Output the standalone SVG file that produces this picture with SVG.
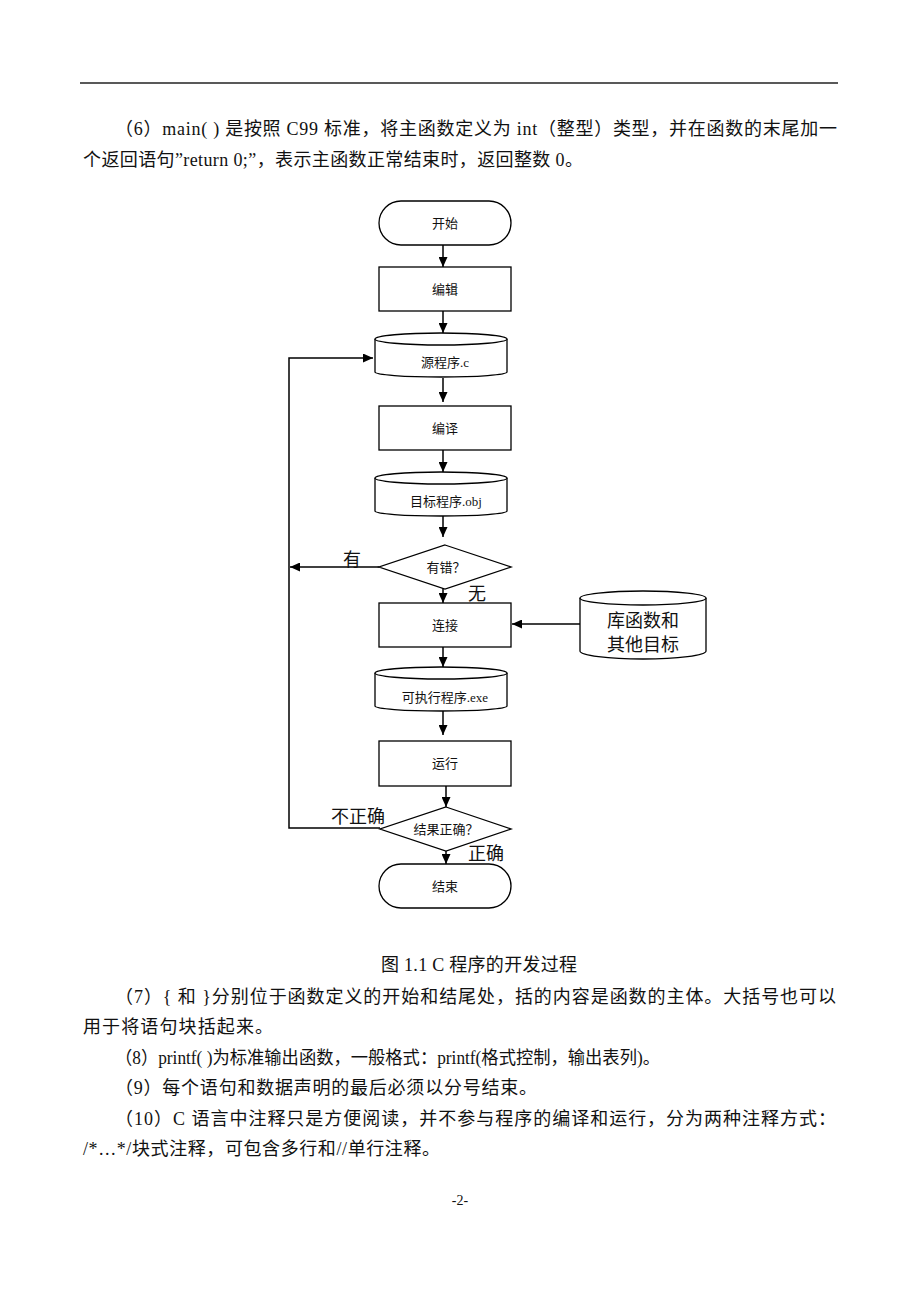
<svg xmlns="http://www.w3.org/2000/svg" width="920" height="1302" viewBox="0 0 920 1302">
<style>
.txt{font-family:"Liberation Serif","Noto Sans CJK SC",serif;fill:#111;}
.body{font-size:18px;}
.node{font-size:13px;text-anchor:middle;dominant-baseline:central;}
.lbl{font-size:18px;text-anchor:middle;dominant-baseline:central;}
.shape{fill:#fff;stroke:#000;stroke-width:1.3;}
.edge{fill:none;stroke:#000;stroke-width:1.5;}
</style>
<defs>
<marker id="ah" markerUnits="userSpaceOnUse" markerWidth="10" markerHeight="9" refX="10" refY="4.5" orient="auto">
<path d="M0,0 L10,4.5 L0,9 Z" fill="#000"/>
</marker>
</defs>
<rect width="920" height="1302" fill="#fff"/>
<line x1="80" y1="83" x2="838" y2="83" stroke="#222" stroke-width="1.5"/>

<g id="body-top" class="txt body">
<text x="115" y="135" textLength="722" lengthAdjust="spacing">（6）main( ) 是按照 C99 标准，将主函数定义为 int（整型）类型，并在函数的末尾加一</text>
<text x="83" y="166" textLength="500" lengthAdjust="spacing">个返回语句”return 0;”，表示主函数正常结束时，返回整数 0。</text>
</g>

<g id="connectors">
<line class="edge" x1="443" y1="245" x2="443" y2="267" marker-end="url(#ah)"/>
<line class="edge" x1="443" y1="311" x2="443" y2="333" marker-end="url(#ah)"/>
<line class="edge" x1="443" y1="378" x2="443" y2="402" marker-end="url(#ah)"/>
<line class="edge" x1="443" y1="450" x2="443" y2="472" marker-end="url(#ah)"/>
<line class="edge" x1="443" y1="516" x2="443" y2="537" marker-end="url(#ah)"/>
<line class="edge" x1="379" y1="567" x2="290" y2="567" marker-end="url(#ah)"/>
<line class="edge" x1="443" y1="588" x2="443" y2="603" marker-end="url(#ah)"/>
<line class="edge" x1="580" y1="624" x2="512" y2="624" marker-end="url(#ah)"/>
<line class="edge" x1="443" y1="647" x2="443" y2="667" marker-end="url(#ah)"/>
<line class="edge" x1="443" y1="711" x2="443" y2="735" marker-end="url(#ah)"/>
<line class="edge" x1="446" y1="786" x2="446" y2="807" marker-end="url(#ah)"/>
<line class="edge" x1="446" y1="851" x2="446" y2="864" marker-end="url(#ah)"/>
<path class="edge" d="M380,828 H289 V358 H373" marker-end="url(#ah)"/>
<text class="txt lbl" x="352" y="560">有</text>
<text class="txt lbl" x="477" y="594">无</text>
<text class="txt lbl" x="358" y="817">不正确</text>
<text class="txt lbl" x="486" y="854">正确</text>
</g>

<g id="start">
<rect class="shape" x="379" y="201" width="132" height="44" rx="22" ry="22"/>
<text class="txt node" x="445" y="223">开始</text>
</g>
<g id="edit">
<rect class="shape" x="379" y="267" width="132" height="44"/>
<text class="txt node" x="445" y="289">编辑</text>
</g>
<g id="source">
<path class="shape" d="M375,339 A66,6 0 0 1 507,339 V372 A66,5 0 0 1 375,372 Z"/>
<path class="shape" d="M375,339 A66,6 0 0 0 507,339" fill="none"/>
<text class="txt node" x="445" y="362">源程序.c</text>
</g>
<g id="compile">
<rect class="shape" x="379" y="406" width="132" height="44"/>
<text class="txt node" x="445" y="428">编译</text>
</g>
<g id="object">
<path class="shape" d="M375,478 A66,6 0 0 1 507,478 V511 A66,5 0 0 1 375,511 Z"/>
<path class="shape" d="M375,478 A66,6 0 0 0 507,478" fill="none"/>
<text class="txt node" x="446" y="501">目标程序.obj</text>
</g>
<g id="has-error">
<polygon class="shape" points="445,545 511,567 445,589 379,567"/>
<text class="txt node" x="446" y="567">有错？</text>
</g>
<g id="link">
<rect class="shape" x="379" y="603" width="132" height="44"/>
<text class="txt node" x="445" y="625">连接</text>
</g>
<g id="library">
<path class="shape" d="M580,598 A63,7 0 0 1 706,598 V651 A63,8 0 0 1 580,651 Z"/>
<path class="shape" d="M580,598 A63,7 0 0 0 706,598" fill="none"/>
<text class="txt lbl" x="643" y="621">库函数和</text>
<text class="txt lbl" x="643" y="645">其他目标</text>
</g>
<g id="exe">
<path class="shape" d="M375,673 A66,6 0 0 1 507,673 V706 A66,5 0 0 1 375,706 Z"/>
<path class="shape" d="M375,673 A66,6 0 0 0 507,673" fill="none"/>
<text class="txt node" x="445" y="697">可执行程序.exe</text>
</g>
<g id="run">
<rect class="shape" x="379" y="741" width="132" height="45"/>
<text class="txt node" x="445" y="763">运行</text>
</g>
<g id="result-ok">
<polygon class="shape" points="446,807 511,829 446,851 380,829"/>
<text class="txt node" x="446" y="829">结果正确？</text>
</g>
<g id="end">
<rect class="shape" x="379" y="864" width="132" height="44" rx="22" ry="22"/>
<text class="txt node" x="445" y="886">结束</text>
</g>

<g id="body-bottom" class="txt body">
<text x="479" y="971" text-anchor="middle" textLength="196" lengthAdjust="spacing">图 1.1 C 程序的开发过程</text>
<text x="115" y="1003" textLength="721" lengthAdjust="spacing">（7）{ 和 }分别位于函数定义的开始和结尾处，括的内容是函数的主体。大括号也可以</text>
<text x="83" y="1033" textLength="190" lengthAdjust="spacing">用于将语句块括起来。</text>
<text x="115" y="1064" textLength="545" lengthAdjust="spacingAndGlyphs">（8）printf( )为标准输出函数，一般格式：printf(格式控制，输出表列)。</text>
<text x="115" y="1094" textLength="422" lengthAdjust="spacing">（9）每个语句和数据声明的最后必须以分号结束。</text>
<text x="115" y="1125" textLength="721" lengthAdjust="spacing">（10）C 语言中注释只是方便阅读，并不参与程序的编译和运行，分为两种注释方式：</text>
<text x="83" y="1155" textLength="357" lengthAdjust="spacing">/*…*/块式注释，可包含多行和//单行注释。</text>
<text x="460" y="1205" text-anchor="middle" style="font-size:14px">-2-</text>
</g>
</svg>
